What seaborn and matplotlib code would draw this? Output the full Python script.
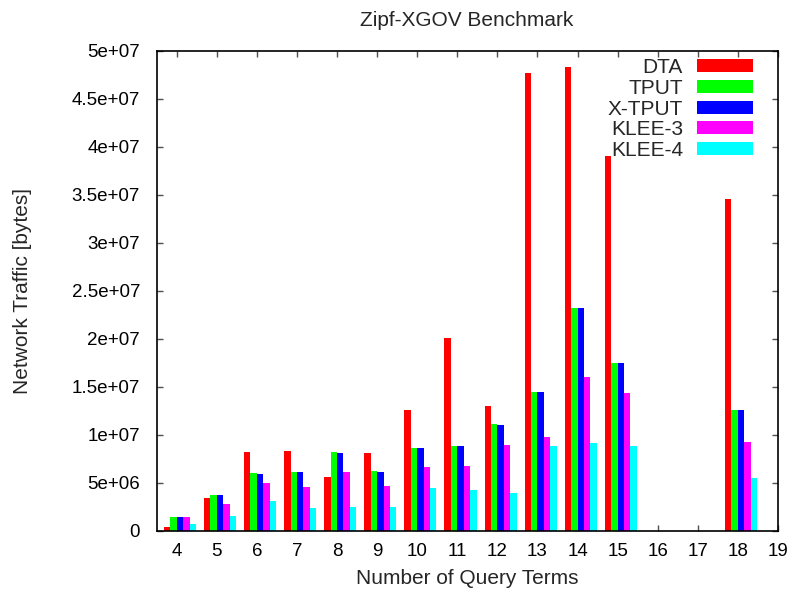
import matplotlib
matplotlib.use("Agg")
import matplotlib.pyplot as plt
from matplotlib.patches import Patch
from matplotlib.ticker import FuncFormatter, MultipleLocator
import numpy as np
import pandas as pd
import seaborn as sns

# Network traffic (bytes) per number of query terms
terms = [4, 5, 6, 7, 8, 9, 10, 11, 12, 13, 14, 15, 18]
dta = [0.45e6, 3.47e6, 8.23e6, 8.37e6, 5.66e6, 8.16e6, 12.64e6, 20.07e6, 13.02e6,
       47.74e6, 48.37e6, 39.10e6, 34.58e6]
tput = [1.49e6, 3.75e6, 6.04e6, 6.15e6, 8.20e6, 6.25e6, 8.68e6, 8.85e6, 11.15e6,
        14.48e6, 23.23e6, 17.53e6, 12.60e6]
xtput = [1.49e6, 3.75e6, 5.94e6, 6.15e6, 8.12e6, 6.15e6, 8.68e6, 8.85e6, 11.04e6,
         14.48e6, 23.23e6, 17.50e6, 12.60e6]
klee3 = [1.49e6, 2.81e6, 5.00e6, 4.58e6, 6.15e6, 4.72e6, 6.70e6, 6.77e6, 8.96e6,
         9.79e6, 16.04e6, 14.38e6, 9.27e6]
klee4 = [0.73e6, 1.56e6, 3.13e6, 2.40e6, 2.50e6, 2.50e6, 4.48e6, 4.27e6, 3.96e6,
         8.85e6, 9.17e6, 8.85e6, 5.52e6]

series = ["DTA", "TPUT", "X-TPUT", "KLEE-3", "KLEE-4"]
colors = ["#ff0000", "#00ff00", "#0000ff", "#ff00ff", "#00ffff"]
xticks = list(range(4, 20))

sns.set_style("ticks")
plt.rcParams["font.family"] = ["Liberation Sans", "DejaVu Sans"]
TICK_FS = 13.5
TEXT_FS = 15

rows = []
for name, vals in zip(series, [dta, tput, xtput, klee3, klee4]):
    for t, v in zip(terms, vals):
        rows.append({"terms": t, "series": name, "traffic": v})
df = pd.DataFrame(rows)
# groups start just left of the tick, gnuplot-style
df["pos"] = df["terms"] + 0.08

fig = plt.figure(figsize=(7.93, 5.93), dpi=100)
ax = fig.add_axes([0.1976, 0.1046, 0.7834, 0.8094])

sns.barplot(data=df, x="pos", y="traffic", hue="series", hue_order=series,
            palette=dict(zip(series, colors)), saturation=1, native_scale=True,
            dodge=True, width=0.8, gap=0, errorbar=None, linewidth=0,
            legend=False, ax=ax)

ax.set_xlim(3.5, 19)
ax.set_ylim(0, 5e7)
ax.set_xticks(xticks)
ax.set_xticklabels([str(t) for t in xticks])
ax.yaxis.set_major_locator(MultipleLocator(5e6))
ax.yaxis.set_major_formatter(FuncFormatter(lambda v, p: "%g" % v))

for s in ax.spines.values():
    s.set_visible(True)
    s.set_color("black")
    s.set_linewidth(1.2)

ax.tick_params(axis="both", which="major", direction="in", length=4.5, width=1.0,
               color="#505050", labelsize=TICK_FS, top=True, right=True,
               labelcolor="black")
ax.tick_params(axis="y", pad=12)
ax.tick_params(axis="x", pad=9)

ax.set_xlabel("Number of Query Terms", fontsize=TEXT_FS)
ax.set_ylabel("Network Traffic [bytes]", fontsize=TEXT_FS)
ax.xaxis.set_label_coords(0.5, -0.08)
ax.yaxis.set_label_coords(-0.2, 0.5)

fig.text(467 / 793, 1 - 21 / 593, "Zipf-XGOV Benchmark", ha="center", va="center",
         fontsize=TEXT_FS)

handles = [Patch(facecolor=c, edgecolor="none", label=n) for n, c in zip(series, colors)]
ax.legend(handles=handles, loc="upper right", bbox_to_anchor=(0.96, 0.985),
          frameon=False, markerfirst=False, fontsize=TEXT_FS, handlelength=2.7,
          handleheight=0.58, handletextpad=0.67, labelspacing=0.08,
          borderpad=0, borderaxespad=0)

fig.savefig("out.png", dpi=100)
